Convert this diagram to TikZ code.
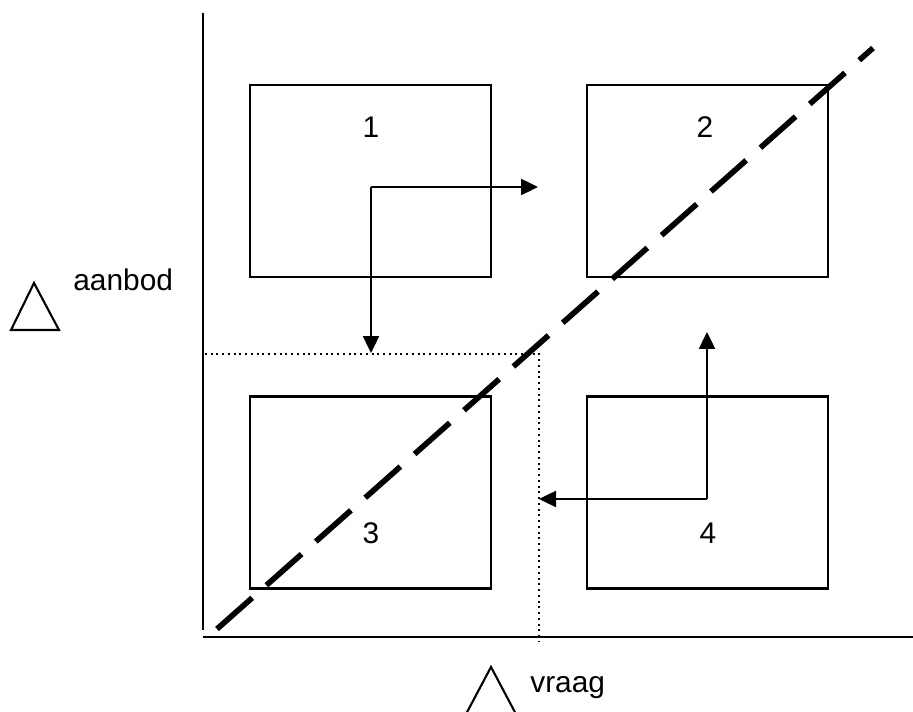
\documentclass[tikz,border=0pt]{standalone}
\usepackage{fontspec}
\setmainfont{Liberation Sans}
\usetikzlibrary{arrows.meta}
\tikzset{
  vak/.style={draw, line width=1.2pt, minimum width=4.82cm, minimum height=3.84cm, inner sep=0pt, outer sep=0pt},
  pijl/.style={line width=1.4pt, -{Triangle[length=0.34cm,width=0.32cm]}},
  stip/.style={line width=0.9pt, dash pattern=on 0.04cm off 0.075cm},
  tekst/.style={font=\fontsize{17}{20}\selectfont, inner sep=0pt},
}
\begin{document}
\begin{tikzpicture}[x=0.02cm,y=-0.02cm]
  \useasboundingbox (0,0) rectangle (913,712);
  % assen
  \draw [line width=1.3pt] (203,13) -- (203,630);
  \draw [line width=1.3pt] (203,637) -- (913,637);
  % de vier vakken
  \node[vak] (v1) at (370.5,181) {};
  \node[vak] (v2) at (707.5,181) {};
  \node[vak] (v3) at (370.5,492.5) {};
  \node[vak] (v4) at (707.5,492.5) {};
  \node[tekst] (n1) at (371,127) {1};
  \node[tekst] (n2) at (705,127) {2};
  \node[tekst] (n3) at (371,533) {3};
  \node[tekst] (n4) at (708,533) {4};
  % stippellijnen
  \coordinate (s0) at (205,354);
  \coordinate (s1) at (539,354);
  \coordinate (s2) at (539,642);
  \draw [stip] (s0) -- (s1) -- (s2);
  % diagonaal
  \draw [line width=3.2pt, dash pattern=on 0.94cm off 0.38cm] (217,629) -- (873,48);
  % pijlen
  \coordinate (h1) at (371,187);
  \coordinate (r1) at (538,187);
  \coordinate (o1) at (371,353);
  \draw [pijl] (h1) -- (r1);
  \draw [pijl] (h1) -- (o1);
  \coordinate (h4) at (707,499);
  \coordinate (b4) at (707,332);
  \coordinate (l4) at (539,499);
  \draw [pijl] (h4) -- (b4);
  \draw [pijl] (h4) -- (l4);
  % driehoekjes met labels
  \draw [line width=1.2pt] (11,330) -- (34,283) -- (59,330) -- cycle;
  \node[tekst, anchor=west] (aanbod) at (73,280) {aanbod};
  \draw [line width=1.2pt] (465,716) -- (491,667) -- (517,716);
  \node[tekst, anchor=base west] (vraag) at (530,692) {vraag};
\end{tikzpicture}
\end{document}
